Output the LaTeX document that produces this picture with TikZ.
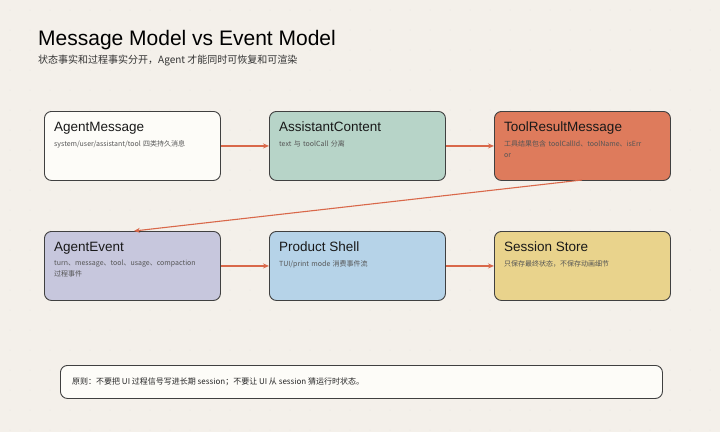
\documentclass[tikz,border=0pt]{standalone}
\usepackage{fontspec}
\setmainfont{Noto Sans CJK SC}
\newfontfamily\lat{Liberation Sans}
\usetikzlibrary{arrows.meta}
\definecolor{bg}{HTML}{F4F0EA}
\definecolor{cA}{HTML}{FDFCF8}
\definecolor{cB}{HTML}{B7D4C8}
\definecolor{cC}{HTML}{DE7B5C}
\definecolor{cD}{HTML}{C7C7DD}
\definecolor{cE}{HTML}{B6D3E8}
\definecolor{cF}{HTML}{E9D38C}
\definecolor{arr}{HTML}{D9684A}
\definecolor{sub}{HTML}{555555}
\tikzset{
 box/.style={draw=black!75,line width=0.9pt,rounded corners=7pt,minimum width=176pt,minimum height=69pt,anchor=north west},
 ttl/.style={anchor=north west,font=\lat\fontsize{13.5}{15}\selectfont,text=black!90,inner sep=0pt},
 sb/.style={anchor=north west,font=\fontsize{7}{11}\selectfont,text=sub,inner sep=0pt,text width=160pt,align=left},
 ar/.style={draw=arr,line width=1.1pt,-{Stealth[length=6pt,width=5pt]}}
}
\begin{document}
\begin{tikzpicture}[x=1pt,y=-1pt]
\fill[bg] (0,0) rectangle (720,432);
\useasboundingbox (0,0) rectangle (720,432);
\foreach \i in {0,...,35}{\foreach \j in {0,...,21}{\fill[black!12] (\i*20+10,\j*20+10) circle (0.5pt);}}
\node[anchor=north west,inner sep=0pt,font=\lat\fontsize{21}{24}\selectfont] (title) at (38,30) {Message Model vs Event Model};
\node[anchor=north west,inner sep=0pt,font=\fontsize{10}{12}\selectfont,text=black!80] (subt) at (38,55) {状态事实和过程事实分开，Agent 才能同时可恢复和可渲染};
\node[box,fill=cA] (a) at (44,111) {};
\node[box,fill=cB] (b) at (269,111) {};
\node[box,fill=cC] (c) at (494,111) {};
\node[box,fill=cD] (d) at (44,231) {};
\node[box,fill=cE] (e) at (269,231) {};
\node[box,fill=cF] (f) at (494,231) {};
\node[ttl] (at) at (54,122) {AgentMessage};
\node[sb] (as) at (54,140) {system/user/assistant/tool 四类持久消息};
\node[ttl] (bt) at (279,122) {AssistantContent};
\node[sb] (bs) at (279,140) {text 与 toolCall 分离};
\node[ttl] (ct) at (504,122) {ToolResultMessage};
\node[sb] (cs) at (504,140) {工具结果包含 toolCallId、toolName、isErr\\or};
\node[ttl] (dt) at (54,242) {AgentEvent};
\node[sb,text width=165pt] (ds) at (54,260) {turn、message、tool、usage、compaction\\过程事件};
\node[ttl] (et) at (279,242) {Product Shell};
\node[sb] (es) at (279,260) {TUI/print mode 消费事件流};
\node[ttl] (ft) at (504,242) {Session Store};
\node[sb] (fs) at (504,260) {只保存最终状态，不保存动画细节};
\draw[ar] (a.east) -- (b.west);
\draw[ar] (b.east) -- (c.west);
\draw[ar] (d.east) -- (e.west);
\draw[ar] (e.east) -- (f.west);
\coordinate (cb) at (582,180);
\coordinate (dtp) at (134,231);
\draw[ar] (cb) -- (dtp);
\node[draw=black!75,line width=0.9pt,fill=cA,rounded corners=7pt,minimum width=602pt,minimum height=33pt,anchor=north west] (note) at (60,365) {};
\node[anchor=west,inner sep=0pt,font=\fontsize{8}{10}\selectfont,text=black!85] (nt) at (72,381.5) {原则：不要把 UI 过程信号写进长期 session；不要让 UI 从 session 猜运行时状态。};
\end{tikzpicture}
\end{document}
